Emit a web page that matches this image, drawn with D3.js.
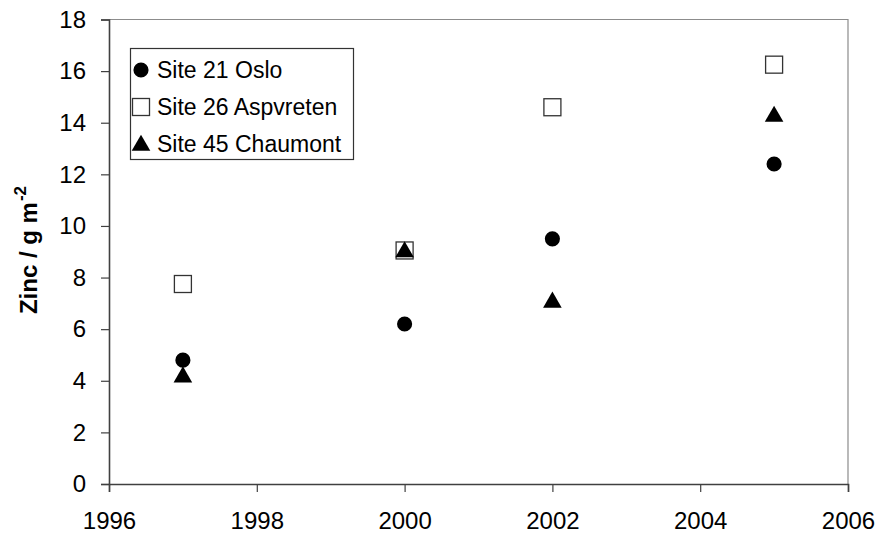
<!DOCTYPE html>
<html>
<head>
<meta charset="utf-8">
<script src="https://cdn.jsdelivr.net/npm/d3@7"></script>
<style>
  html, body { margin: 0; padding: 0; background: #fff; }
  svg { display: block; font-family: Arial, "Liberation Sans", sans-serif; }
</style>
</head>
<body>
<svg id="chart" width="878" height="533"></svg>
<script>
// Zinc deposition per site and year
const years = [1997, 2000, 2002, 2005];
const oslo = [4.8, 6.2, 9.5, 12.4];
const aspvreten = [7.75, 9.05, 14.6, 16.25];
const chaumont = [4.2, 9.05, 7.1, 14.3];
const seriesNames = ["Site 21 Oslo", "Site 26 Aspvreten", "Site 45 Chaumont"];
const xTicks = [1996, 1998, 2000, 2002, 2004, 2006];
const yTicks = [0, 2, 4, 6, 8, 10, 12, 14, 16, 18];

const svg = d3.select("#chart");
const plotLeft = 109, plotRight = 848, plotTop = 19.5, plotBottom = 484;

const x = d3.scaleLinear().domain([1996, 2006]).range([plotLeft, plotRight]);
const y = d3.scaleLinear().domain([0, 18]).range([plotBottom, plotTop]);

// plot frame: top and right edges
svg.append("path")
  .attr("d", `M${plotLeft},${plotTop}H${plotRight}V${plotBottom}`)
  .attr("fill", "none").attr("stroke", "#8c8c8c").attr("stroke-width", 1.2);

// y axis
const yAxis = svg.append("g")
  .attr("transform", `translate(${plotLeft},0)`)
  .call(d3.axisLeft(y).tickValues(yTicks).tickSize(8).tickPadding(15).tickFormat(d3.format("d")));
// x axis
const xAxis = svg.append("g")
  .attr("transform", `translate(0,${plotBottom})`)
  .call(d3.axisBottom(x).tickValues(xTicks).tickSize(8).tickPadding(20).tickFormat(d3.format("d")));

[yAxis, xAxis].forEach(g => {
  g.select(".domain").attr("stroke", "#404040").attr("stroke-width", 1.6);
  g.selectAll(".tick line").attr("stroke", "#404040").attr("stroke-width", 1.2);
  g.selectAll(".tick text").attr("fill", "#000").style("font-size", "24px");
});
xAxis.selectAll(".tick text").attr("dy", "0.71em");

// y axis title with superscript exponent
const title = svg.append("text")
  .attr("transform", "translate(37,250) rotate(-90)")
  .attr("text-anchor", "middle")
  .style("font-size", "24px").style("font-weight", "bold");
title.append("tspan").text("Zinc / g m");
title.append("tspan").text("-2").attr("dx", 1).attr("dy", -11).style("font-size", "17px");

// marker drawing
const circleSym = d3.symbol(d3.symbolCircle, 180);
const triSym = d3.symbol(d3.symbolTriangle, 150);
const sq = 17;

function drawCircle(g, cx, cy) {
  g.append("path").attr("d", circleSym()).attr("transform", `translate(${cx},${cy})`).attr("fill", "#000");
}
function drawSquare(g, cx, cy) {
  g.append("rect").attr("x", cx - sq / 2).attr("y", cy - sq / 2).attr("width", sq).attr("height", sq)
    .attr("fill", "#fff").attr("stroke", "#333").attr("stroke-width", 1.3);
}
function drawTri(g, cx, cy) {
  g.append("path").attr("d", triSym()).attr("transform", `translate(${cx},${cy + 1.5})`).attr("fill", "#000");
}

const marks = svg.append("g");
years.forEach((yr, i) => drawSquare(marks, x(yr), y(aspvreten[i])));
years.forEach((yr, i) => drawCircle(marks, x(yr), y(oslo[i])));
years.forEach((yr, i) => drawTri(marks, x(yr), y(chaumont[i])));

// legend
const lg = svg.append("g");
lg.append("rect").attr("x", 130.5).attr("y", 48.5).attr("width", 223).attr("height", 111)
  .attr("fill", "#fff").attr("stroke", "#333").attr("stroke-width", 1.2);
const rowY = [70, 107, 144];
const drawers = [drawCircle, drawSquare, drawTri];
seriesNames.forEach((name, i) => {
  drawers[i](lg, 141, rowY[i]);
  lg.append("text").attr("x", 157).attr("y", rowY[i]).attr("dy", "0.36em")
    .style("font-size", "23px").text(name);
});
</script>
</body>
</html>
